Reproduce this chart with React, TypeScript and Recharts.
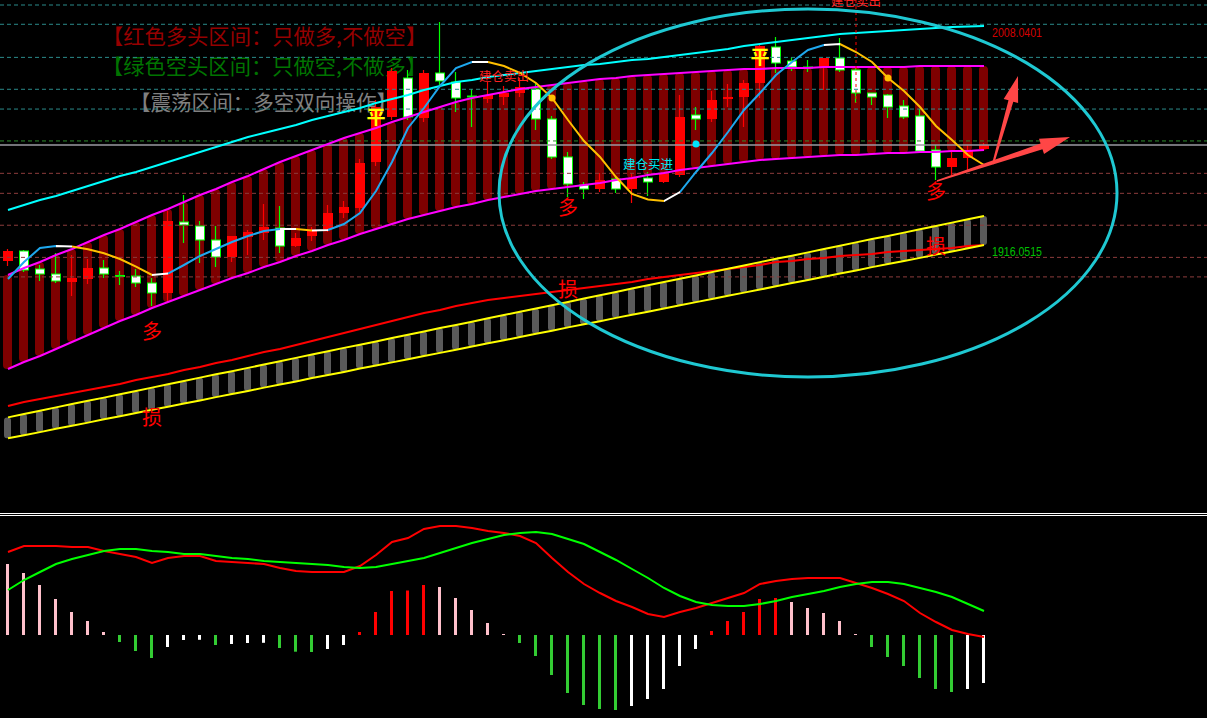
import React from 'react'
import { ComposedChart, Bar, Line, Scatter, XAxis, YAxis, ReferenceLine, Cell } from 'recharts'

// daily candles (62 sessions)
const opens = [
  1909.38, 1913.58, 1906.02, 1903.92, 1900.56, 1901.82, 1906.44, 1903.3, 1903.08, 1900.14,
  1895.94, 1925.76, 1924.08, 1918.2, 1911.06, 1919.46, 1921.14, 1923.24, 1915.68, 1919.88,
  1922.82, 1929.54, 1931.64, 1950.96, 1969.86, 1986.24, 1969.44, 1988.34, 1984.56, 1978.68,
  1977.42, 1978.26, 1979.94, 1981.62, 1969.02, 1953.06, 1941.3, 1939.62, 1943.82, 1939.62,
  1944.24, 1942.56, 1945.5, 1970.7, 1969.02, 1977.42, 1978.26, 1984.14, 1999.26, 1993.38,
  1990.86, 1990.44, 1994.64, 1989.6, 1979.94, 1979.1, 1974.48, 1970.28, 1956.0, 1948.86,
  1952.64, 1956.42,
]
const highs = [
  1914.42, 1914.0, 1907.7, 1912.74, 1911.9, 1910.22, 1909.8, 1905.18, 1906.02, 1902.24,
  1930.38, 1937.1, 1926.18, 1924.08, 1919.88, 1922.4, 1933.32, 1932.48, 1921.14, 1923.66,
  1932.9, 1934.58, 1952.22, 1977.0, 1990.44, 1989.6, 1989.6, 2009.76, 1988.76, 1981.62,
  1984.56, 1982.88, 1986.24, 1984.14, 1970.28, 1955.16, 1942.56, 1946.34, 1944.66, 1946.34,
  1946.76, 1946.76, 1979.1, 1974.06, 1980.78, 1983.72, 1985.4, 2000.1, 2003.46, 1995.06,
  1993.8, 1994.64, 2003.04, 1990.44, 1979.94, 1979.52, 1977.0, 1973.22, 1958.1, 1956.0,
  1958.1, 1958.94,
]
const lows = [
  1907.28, 1904.76, 1900.98, 1900.14, 1894.68, 1899.72, 1902.24, 1899.3, 1898.46, 1890.48,
  1891.74, 1916.94, 1908.54, 1906.86, 1908.96, 1911.9, 1918.2, 1912.74, 1915.26, 1917.78,
  1921.56, 1927.44, 1929.96, 1949.28, 1968.6, 1968.6, 1967.76, 1982.04, 1971.96, 1965.66,
  1975.74, 1974.9, 1978.26, 1964.4, 1952.22, 1936.26, 1935.42, 1938.36, 1937.94, 1933.74,
  1936.68, 1942.14, 1944.66, 1964.4, 1967.76, 1974.06, 1965.66, 1977.84, 1988.34, 1989.18,
  1988.76, 1981.2, 1988.76, 1975.74, 1974.9, 1969.44, 1969.02, 1955.16, 1943.4, 1945.5,
  1946.76, 1955.58,
]
const closes = [
  1913.58, 1905.6, 1903.92, 1900.98, 1902.24, 1906.44, 1903.92, 1903.08, 1900.14, 1895.94,
  1926.18, 1924.5, 1918.2, 1911.06, 1919.88, 1921.56, 1923.66, 1915.68, 1919.04, 1922.4,
  1929.54, 1932.06, 1950.54, 1974.06, 1989.18, 1969.86, 1988.34, 1984.98, 1977.84, 1978.26,
  1979.1, 1979.94, 1982.46, 1969.02, 1953.06, 1941.72, 1939.62, 1943.4, 1939.62, 1944.24,
  1942.56, 1946.34, 1969.86, 1969.02, 1977.0, 1978.26, 1984.14, 1999.68, 1992.54, 1990.86,
  1990.44, 1994.64, 1989.6, 1979.94, 1978.26, 1974.06, 1969.86, 1955.58, 1948.86, 1952.64,
  1955.58, 1958.1,
]

// short trend line and its state (1 rising, 0 flat, -1 falling)
const fastLine = [
  1901.82, 1908.96, 1914.84, 1915.68, 1915.47, 1914.3, 1912.6, 1910.22, 1907.0, 1903.5,
  1904.1, 1907.7, 1911.48, 1914.42, 1917.36, 1919.88, 1921.98, 1922.82, 1922.82, 1922.2,
  1922.4, 1924.92, 1929.54, 1938.78, 1950.96, 1965.24, 1973.64, 1982.88, 1990.44, 1992.96,
  1992.96, 1991.28, 1988.34, 1984.14, 1977.84, 1968.6, 1959.78, 1953.06, 1944.66, 1937.52,
  1935.21, 1934.58, 1938.36, 1946.76, 1954.74, 1963.56, 1972.8, 1979.94, 1987.5, 1992.96,
  1998.0, 2000.1, 2000.52, 1997.16, 1992.96, 1986.24, 1980.78, 1974.06, 1966.08, 1960.2,
  1953.9, 1949.7,
]
const fastTrend = [
  1, 1, 1, 1, 0, -1, -1, -1, -1, -1,
  0, 1, 1, 1, 1, 1, 1, 1, 0, -1,
  0, 1, 1, 1, 1, 1, 1, 1, 1, 1,
  0, -1, -1, -1, -1, -1, -1, -1, -1, -1,
  -1, -1, 0, 1, 1, 1, 1, 1, 1, 1,
  1, 1, 0, -1, -1, -1, -1, -1, -1, -1,
  -1, -1,
]

// channel (magenta lines, dark red fill)
const bandTop = [
  1903.5, 1906.44, 1908.96, 1911.9, 1914.42, 1917.36, 1920.3, 1922.82, 1925.76, 1928.7,
  1931.22, 1934.16, 1937.1, 1939.62, 1942.56, 1945.08, 1948.02, 1950.96, 1953.48, 1956.0,
  1958.52, 1961.04, 1963.14, 1965.24, 1967.76, 1969.86, 1971.96, 1974.06, 1976.16, 1977.84,
  1979.1, 1980.36, 1981.62, 1982.46, 1983.3, 1984.14, 1984.98, 1985.82, 1986.24, 1987.08,
  1987.5, 1987.92, 1988.34, 1988.76, 1989.18, 1989.6, 1990.02, 1990.02, 1990.44, 1990.44,
  1990.44, 1990.86, 1990.86, 1990.86, 1990.86, 1990.86, 1990.86, 1991.28, 1991.28, 1991.28,
  1991.28, 1991.28,
]
const bandBottom = [
  1864.02, 1866.96, 1869.48, 1872.42, 1875.36, 1878.3, 1881.24, 1884.18, 1886.7, 1889.64,
  1892.16, 1894.68, 1897.2, 1899.72, 1902.24, 1904.34, 1906.86, 1908.96, 1911.48, 1913.58,
  1916.1, 1918.2, 1920.72, 1922.82, 1924.92, 1927.02, 1928.7, 1930.38, 1932.06, 1933.32,
  1935.0, 1936.26, 1937.52, 1938.78, 1939.62, 1940.46, 1941.3, 1942.14, 1943.4, 1944.24,
  1945.5, 1946.34, 1947.6, 1948.44, 1949.28, 1950.12, 1950.96, 1951.8, 1952.22, 1952.64,
  1953.06, 1953.48, 1953.9, 1953.9, 1954.32, 1954.74, 1954.74, 1955.16, 1955.16, 1955.58,
  1955.58, 1956.0,
]

// outer cyan line and slow red line
const cyanLine = [
  1930.8, 1932.9, 1935.0, 1936.68, 1938.78, 1940.88, 1942.98, 1945.08, 1946.76, 1948.86,
  1950.96, 1953.06, 1955.16, 1957.26, 1959.36, 1961.46, 1963.14, 1964.82, 1966.5, 1968.6,
  1970.28, 1971.96, 1973.64, 1975.74, 1977.42, 1979.1, 1981.2, 1982.88, 1984.56, 1985.4,
  1986.66, 1987.5, 1988.34, 1989.18, 1990.02, 1990.86, 1991.7, 1992.12, 1992.96, 1993.8,
  1994.22, 1995.06, 1995.9, 1996.74, 1997.58, 1998.42, 1999.68, 2000.52, 2001.36, 2002.2,
  2003.04, 2003.88, 2004.72, 2005.14, 2005.56, 2005.98, 2006.4, 2006.82, 2007.24, 2007.66,
  2007.9, 2008.04,
]
const redLine = [
  1848.48, 1850.16, 1851.42, 1852.68, 1853.94, 1855.2, 1856.46, 1857.72, 1859.4, 1860.66,
  1861.92, 1863.6, 1864.86, 1866.54, 1867.8, 1869.48, 1871.16, 1872.42, 1874.1, 1875.78,
  1877.46, 1879.14, 1880.82, 1882.5, 1884.18, 1885.86, 1887.54, 1888.8, 1890.48, 1891.74,
  1893.0, 1893.84, 1894.68, 1895.52, 1896.36, 1897.2, 1898.04, 1898.88, 1899.72, 1900.56,
  1901.82, 1902.66, 1903.5, 1904.34, 1905.18, 1906.02, 1906.86, 1907.7, 1908.96, 1909.38,
  1910.22, 1910.64, 1911.48, 1911.9, 1912.32, 1913.16, 1913.58, 1914.0, 1914.42, 1914.84,
  1915.68, 1916.05,
]

// lower stop band (yellow lines, gray fill)
const yellowTop = [
  1843.7, 1845.1, 1846.5, 1847.9, 1849.3, 1850.7, 1852.0, 1853.4, 1854.8, 1856.2,
  1857.6, 1859.0, 1860.4, 1861.8, 1863.1, 1864.5, 1865.9, 1867.3, 1868.7, 1870.1,
  1871.5, 1872.9, 1874.2, 1875.6, 1877.0, 1878.4, 1879.8, 1881.2, 1882.5, 1883.9,
  1885.3, 1886.7, 1888.1, 1889.4, 1890.8, 1892.2, 1893.6, 1895.0, 1896.4, 1897.8,
  1899.2, 1900.6, 1901.9, 1903.3, 1904.7, 1906.1, 1907.5, 1908.9, 1910.3, 1911.6,
  1913.0, 1914.4, 1915.8, 1917.2, 1918.6, 1919.9, 1921.3, 1922.7, 1924.1, 1925.5,
  1926.9, 1928.3,
]
const yellowBottom = [
  1834.9, 1836.2, 1837.5, 1838.9, 1840.2, 1841.5, 1842.9, 1844.2, 1845.5, 1846.9,
  1848.2, 1849.5, 1850.8, 1852.2, 1853.5, 1854.8, 1856.2, 1857.5, 1858.8, 1860.2,
  1861.5, 1862.8, 1864.2, 1865.5, 1866.8, 1868.1, 1869.5, 1870.8, 1872.1, 1873.5,
  1874.8, 1876.1, 1877.5, 1878.8, 1880.1, 1881.5, 1882.8, 1884.1, 1885.5, 1886.8,
  1888.1, 1889.4, 1890.8, 1892.1, 1893.4, 1894.8, 1896.1, 1897.4, 1898.8, 1900.1,
  1901.4, 1902.8, 1904.1, 1905.4, 1906.8, 1908.1, 1909.4, 1910.7, 1912.1, 1913.4,
  1914.7, 1916.1,
]

// horizontal levels
const upperLevels = [2016.9, 2008.8, 1994.9, 1981.5, 1973.2]
const pivotLevel = 1959.8
const lastPrice = 1958.1
const lowerLevels = [1946.2, 1937.8, 1924.4, 1910.9, 1902.7]

// signals
const duoMarks = [{ i: 9, price: 1880.4 }, { i: 35, price: 1932.1 }, { i: 58, price: 1939.2 }]
const sunMarks = [{ i: 9, price: 1843.9 }, { i: 35, price: 1898.0 }, { i: 58, price: 1915.7 }]
const pingMarks = [{ i: 23, price: 1970.7 }, { i: 47, price: 1995.5 }]
const sellMarks = [{ i: 31, price: 1987.5 }, { i: 53, price: 2019.0 }]
const buyMarks = [{ i: 40, price: 1950.5 }]
const turnDots = [{ i: 34, price: 1977.84 }, { i: 55, price: 1986.24 }]
const buyDots = [{ i: 43, price: 1958.5 }]
const sellLine = { i: 53, from: 2019.0, to: 1975.7 }
const valueTags = [
  { i: 61, price: 2008.04, text: '2008.0401' },
  { i: 61, price: 1916.05, text: '1916.0515' },
]

// MACD
const difLine = [
  8.3, 8.9, 8.9, 8.9, 8.8, 8.8, 8.4, 8.1, 7.8, 7.2,
  7.7, 7.9, 7.9, 7.4, 7.3, 7.2, 7.1, 6.7, 6.4, 6.3,
  6.3, 6.3, 6.9, 8.0, 9.3, 9.7, 10.6, 10.9, 10.9, 10.7,
  10.4, 10.2, 9.9, 9.2, 7.7, 6.3, 5.1, 4.2, 3.4, 2.8,
  2.1, 1.8, 2.3, 2.7, 3.2, 3.7, 4.2, 5.1, 5.4, 5.6,
  5.7, 5.7, 5.7, 5.2, 4.7, 4.1, 3.4, 2.2, 1.3, 0.5,
  0.1, -0.2,
]
const deaLine = [
  4.5, 5.5, 6.3, 7.1, 7.6, 8.0, 8.4, 8.6, 8.6, 8.4,
  8.3, 8.1, 8.1, 7.9, 7.7, 7.6, 7.4, 7.3, 7.2, 7.1,
  7.0, 6.8, 6.7, 6.8, 7.1, 7.4, 7.7, 8.2, 8.7, 9.2,
  9.6, 10.0, 10.2, 10.3, 10.1, 9.6, 9.1, 8.3, 7.5, 6.6,
  5.7, 4.7, 3.9, 3.3, 3.0, 2.9, 2.9, 3.1, 3.4, 3.8,
  4.1, 4.4, 4.8, 5.1, 5.3, 5.3, 5.1, 4.7, 4.3, 3.8,
  3.1, 2.4,
]
const macdHist = [
  7.1, 6.2, 5.0, 3.6, 2.3, 1.4, 0.3, -0.7, -1.6, -2.3,
  -1.2, -0.5, -0.48, -1.0, -0.9, -0.8, -0.78, -1.3, -1.67, -1.7,
  -1.4, -1.0, 0.3, 2.3, 4.4, 4.45, 5.0, 4.8, 3.7, 2.5,
  1.2, 0.1, -0.8, -2.1, -4.0, -5.8, -7.0, -7.4, -7.5, -7.1,
  -6.4, -5.4, -3.1, -1.4, 0.4, 1.4, 2.3, 3.6, 3.7, 3.3,
  2.7, 2.2, 1.4, 0.1, -1.2, -2.2, -3.1, -4.3, -5.4, -5.7,
  -5.4, -4.8,
]

const W = 1207
const xDomain = [-0.5, 74.9375]
const priceDomain = [1803.96, 2019]
const macdDomain = [-8.3, 11.9]
const FONT = '"Noto Sans CJK SC", "Noto Sans", sans-serif'

const rows = opens.map((o, i) => ({
  i,
  open: o,
  high: highs[i],
  low: lows[i],
  close: closes[i],
  fast: fastLine[i],
  cyan: cyanLine[i],
  red: redLine[i],
  bandTop: bandTop[i],
  bandBottom: bandBottom[i],
  yTop: yellowTop[i],
  yBot: yellowBottom[i],
}))

const macdRows = macdHist.map((h, i) => ({ i, hist: h, dif: difLine[i], dea: deaLine[i] }))

const histColor = (i: number) => {
  const v = macdHist[i]
  const prev = i > 0 ? macdHist[i - 1] : Infinity
  if (v >= 0) return v < prev ? '#ffc0cb' : '#ff0000'
  return v < prev ? '#33cc33' : '#ffffff'
}

const trendColor = (t: number) => (t > 0 ? '#1ea8ee' : t < 0 ? '#ffc000' : '#ffffff')

function Candle(props: any) {
  const { x, y, width, height, payload } = props
  if (!payload) return null
  const { open, close, high, low } = payload
  const top = Math.min(y, y + height)
  const h = Math.abs(height)
  const k = h / (high - low)
  const py = (v: number) => top + (high - v) * k
  const cx = Math.round(x + width / 2)
  const up = close > open
  const bTop = py(Math.max(open, close))
  const bh = Math.max(1, py(Math.min(open, close)) - bTop)
  return (
    <g>
      <line x1={cx - 0.5} x2={cx - 0.5} y1={top} y2={top + h} stroke={up ? '#ff0000' : '#00ff00'} strokeWidth={1.2} />
      {up ? (
        <rect x={cx - width / 2} y={bTop} width={width} height={bh} fill="#ff0000" />
      ) : (
        <rect x={cx - width / 2 + 0.5} y={bTop} width={width - 1} height={bh} fill="#ffffff" stroke="#00ff00" strokeWidth={1} />
      )}
    </g>
  )
}

const textMark = (label: string, color: string, size: number, bold = false) => (p: any) => (
  <text
    x={p.cx}
    y={p.cy}
    fill={color}
    fontSize={size}
    fontWeight={bold ? 700 : 400}
    fontFamily={FONT}
    textAnchor="middle"
    dominantBaseline="central"
  >
    {label}
  </text>
)

const dot = (color: string) => (p: any) => <circle cx={p.cx} cy={p.cy} r={3.5} fill={color} />

function arrow(x1: number, y1: number, x2: number, y2: number, head: number, headW: number, neckW: number, tailW: number) {
  const dx = x2 - x1
  const dy = y2 - y1
  const L = Math.hypot(dx, dy)
  const ux = dx / L
  const uy = dy / L
  const nx = -uy
  const ny = ux
  const bx = x2 - ux * head
  const by = y2 - uy * head
  const pts = [
    [x1 + (nx * tailW) / 2, y1 + (ny * tailW) / 2],
    [bx + (nx * neckW) / 2, by + (ny * neckW) / 2],
    [bx + (nx * headW) / 2, by + (ny * headW) / 2],
    [x2, y2],
    [bx - (nx * headW) / 2, by - (ny * headW) / 2],
    [bx - (nx * neckW) / 2, by - (ny * neckW) / 2],
    [x1 - (nx * tailW) / 2, y1 - (ny * tailW) / 2],
  ]
  return pts.map((p) => p.join(',')).join(' ')
}

export default function App() {
  const n = fastLine.length - 1

  return (
    <div style={{ position: 'absolute', left: 0, top: 0, width: W, height: 718, background: '#000', overflow: 'hidden', fontFamily: FONT }}>
      {/* region legend */}
      <svg width={W} height={130} style={{ position: 'absolute', left: 0, top: 0 }}>
        <text x={102} y={34.5} fill="#960000" fontSize={21} fontFamily={FONT} dominantBaseline="central" textLength={325} lengthAdjust="spacingAndGlyphs">
          【红色多头区间：只做多,不做空】
        </text>
        <text x={102} y={64.5} fill="#007400" fontSize={21} fontFamily={FONT} dominantBaseline="central" textLength={325} lengthAdjust="spacingAndGlyphs">
          【绿色空头区间：只做空,不做多】
        </text>
        <text x={130} y={101} fill="#808080" fontSize={21} fontFamily={FONT} dominantBaseline="central" textLength={267} lengthAdjust="spacingAndGlyphs">
          【震荡区间：多空双向操作】
        </text>
      </svg>

      <div style={{ position: 'absolute', left: 0, top: 0 }}>
        <ComposedChart width={W} height={512} data={rows} margin={{ top: 0, right: 0, bottom: 0, left: 0 }}>
          <defs>
            <linearGradient id="fastGrad" x1="0" y1="0" x2="1" y2="0">
              {fastTrend.slice(1).flatMap((t, k) => [
                <stop key={`a${k}`} offset={k / n} stopColor={trendColor(t)} />,
                <stop key={`b${k}`} offset={(k + 1) / n} stopColor={trendColor(t)} />,
              ])}
            </linearGradient>
          </defs>
          <XAxis type="number" dataKey="i" domain={xDomain} hide allowDataOverflow />
          <XAxis xAxisId="band" type="number" dataKey="i" domain={xDomain} hide allowDataOverflow />
          <XAxis xAxisId="stop" type="number" dataKey="i" domain={xDomain} hide allowDataOverflow />
          <XAxis xAxisId="k" type="number" dataKey="i" domain={xDomain} hide allowDataOverflow />
          <YAxis type="number" domain={priceDomain} hide allowDataOverflow />

          {upperLevels.map((lv) => (
            <ReferenceLine key={lv} y={lv} stroke="#2b8a8a" strokeDasharray="4 3" />
          ))}
          <ReferenceLine y={pivotLevel} stroke="#2e8b2e" strokeDasharray="4 3" />
          <ReferenceLine y={lastPrice} stroke="#9a9aa2" strokeWidth={1.5} />
          {lowerLevels.map((lv) => (
            <ReferenceLine key={lv} y={lv} stroke="#8c3c3c" strokeDasharray="4 3" />
          ))}

          <Bar xAxisId="band" dataKey={(d: any) => [d.bandBottom, d.bandTop]} barSize={9} fill="#7e0000" radius={4} isAnimationActive={false} />
          <Bar xAxisId="stop" dataKey={(d: any) => [d.yBot, d.yTop]} barSize={7} fill="#5a5a5a" radius={3} isAnimationActive={false} />
          <Bar xAxisId="k" dataKey={(d: any) => [d.low, d.high]} barSize={10} shape={<Candle />} isAnimationActive={false} />

          <Line dataKey="red" stroke="#ff0000" strokeWidth={2} dot={false} activeDot={false} isAnimationActive={false} />
          <Line dataKey="yTop" stroke="#ffff00" strokeWidth={2} dot={false} activeDot={false} isAnimationActive={false} />
          <Line dataKey="yBot" stroke="#ffff00" strokeWidth={2} dot={false} activeDot={false} isAnimationActive={false} />
          <Line dataKey="bandTop" stroke="#ff00ff" strokeWidth={2} dot={false} activeDot={false} isAnimationActive={false} />
          <Line dataKey="bandBottom" stroke="#ff00ff" strokeWidth={2} dot={false} activeDot={false} isAnimationActive={false} />
          <Line dataKey="cyan" stroke="#00ffff" strokeWidth={2} dot={false} activeDot={false} isAnimationActive={false} />
          <Line dataKey="fast" stroke="url(#fastGrad)" strokeWidth={2} dot={false} activeDot={false} isAnimationActive={false} />

          <ReferenceLine
            segment={[{ x: sellLine.i, y: sellLine.from }, { x: sellLine.i, y: sellLine.to }]}
            stroke="#ff0000"
            strokeDasharray="3 3"
          />

          <Scatter data={turnDots} dataKey="price" shape={dot('#ffc000')} isAnimationActive={false} />
          <Scatter data={buyDots} dataKey="price" shape={dot('#00e5ff')} isAnimationActive={false} />
          <Scatter data={duoMarks} dataKey="price" shape={textMark('多', '#ff0000', 20)} isAnimationActive={false} />
          <Scatter data={sunMarks} dataKey="price" shape={textMark('损', '#ff0000', 20)} isAnimationActive={false} />
          <Scatter data={pingMarks} dataKey="price" shape={textMark('平', '#ffff00', 19, true)} isAnimationActive={false} />
          <Scatter data={sellMarks} dataKey="price" shape={textMark('建仓卖出', '#ff2020', 12.5)} isAnimationActive={false} />
          <Scatter data={buyMarks} dataKey="price" shape={textMark('建仓买进', '#00e8f0', 12.5)} isAnimationActive={false} />
          <Scatter
            data={valueTags}
            dataKey="price"
            isAnimationActive={false}
            shape={(p: any) => (
              <text
                x={p.cx + 8}
                y={p.cy + 7}
                fill={p.payload.text === valueTags[0].text ? '#d40000' : '#00c000'}
                fontSize={12}
                fontFamily='"Liberation Sans", Arial, sans-serif'
                dominantBaseline="central"
                textLength={50}
                lengthAdjust="spacingAndGlyphs"
              >
                {p.payload.text}
              </text>
            )}
          />
        </ComposedChart>
      </div>

      {/* panel separator */}
      <div style={{ position: 'absolute', left: 0, top: 513, width: W, height: 1, background: '#fff' }} />
      <div style={{ position: 'absolute', left: 0, top: 515, width: W, height: 1, background: '#fff' }} />

      <div style={{ position: 'absolute', left: 0, top: 516 }}>
        <ComposedChart width={W} height={202} data={macdRows} margin={{ top: 0, right: 0, bottom: 0, left: 0 }}>
          <XAxis type="number" dataKey="i" domain={xDomain} hide allowDataOverflow />
          <YAxis type="number" domain={macdDomain} hide allowDataOverflow />
          <Bar dataKey="hist" barSize={3} isAnimationActive={false}>
            {macdRows.map((r) => (
              <Cell key={r.i} fill={histColor(r.i)} />
            ))}
          </Bar>
          <Line dataKey="dif" stroke="#ff0000" strokeWidth={2} dot={false} activeDot={false} isAnimationActive={false} />
          <Line dataKey="dea" stroke="#00ff00" strokeWidth={2} dot={false} activeDot={false} isAnimationActive={false} />
        </ComposedChart>
      </div>

      {/* hand-drawn highlights */}
      <svg width={W} height={512} style={{ position: 'absolute', left: 0, top: 0, pointerEvents: 'none' }}>
        <ellipse cx={808} cy={193} rx={309} ry={184} fill="none" stroke="#1fc8d2" strokeWidth={3} />
        <polygon points={arrow(993, 164, 1018, 76, 26, 15, 5, 2)} fill="#ff4646" />
        <polygon points={arrow(937, 181, 1070, 137, 30, 16, 6, 1.5)} fill="#ff4646" />
      </svg>
    </div>
  )
}
